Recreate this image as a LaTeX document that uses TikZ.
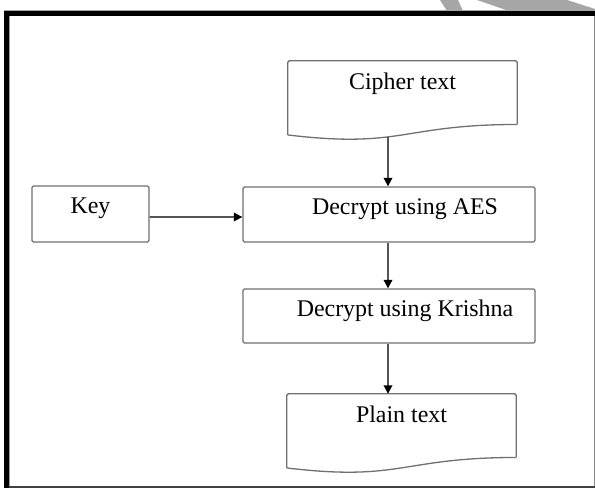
\documentclass[tikz,border=0pt]{standalone}
\usepackage{fontspec}
\setmainfont{Liberation Serif}
\usetikzlibrary{arrows.meta,calc}

\definecolor{boxline}{HTML}{707070}
\definecolor{arrline}{HTML}{555555}
\definecolor{stripe}{HTML}{A6A6A6}

\tikzset{
  procbox/.style={draw=boxline, line width=1.3bp, rounded corners=1.5bp,
    inner sep=0pt, font=\fontsize{24}{26}\selectfont,
    text height=16bp, text depth=16bp},
  docarea/.style={inner sep=0pt, font=\fontsize{24}{26}\selectfont},
  docline/.style={draw=boxline, line width=1.3bp, rounded corners=1.5bp},
  flow/.style={draw=arrline, line width=1.8bp,
    -{Triangle[length=8.5bp,width=8.5bp,color=black,fill=black]}},
}

\begin{document}
\begin{tikzpicture}[x=1bp, y=-1bp]
  \useasboundingbox (0,0) rectangle (595,488);
  \fill[white] (0,0) rectangle (595,488);

  % grey diagonal bands behind the frame
  \fill[stripe] (440,0) -- (458,0) -- (463,11) -- (447,11) -- cycle;
  \fill[stripe] (477,0) -- (567,0) -- (595,9) -- (595,11) -- (509,11) -- cycle;

  % frame
  \fill[black!35] (4,10) rectangle (595,11);
  \fill[black] (4,11) rectangle (595,16.5);
  \fill[black] (4,11) rectangle (9.3,488);
  \fill[black!40] (9.3,16.5) rectangle (10.3,488);
  \fill[black!75] (9.3,485.8) rectangle (595,488);
  \fill[black!45] (593.8,16.5) rectangle (595,486);

  % process boxes
  \node[procbox, minimum width=117bp, minimum height=56bp]
    (key) at (90.5,214) {Key};
  \node[procbox, minimum width=292bp, minimum height=55bp]
    (aes) at (389,214.5) {\hspace*{32bp}Decrypt using AES};
  \node[procbox, minimum width=292bp, minimum height=54bp]
    (krishna) at (389,316) {\hspace*{32bp}Decrypt using Krishna};

  % document shapes: text area nodes, outline drawn from their corners
  \node[docarea, minimum width=229bp, minimum height=79bp,
        text height=16bp, text depth=37bp]
    (cipher) at (402.5,100.5) {Cipher text};
  \node[docarea, minimum width=229bp, minimum height=79bp,
        text height=16bp, text depth=39bp]
    (plain) at (401.5,433.5) {Plain text};

  \foreach \d in {cipher,plain}{
    \draw[docline]
      ($(\d.north west)!0.934!(\d.south west)$)
      -- (\d.north west) -- (\d.north east)
      -- ($(\d.north east)!0.802!(\d.south east)$);
    \draw[draw=boxline, line width=1.3bp]
      ($(\d.north west)!0.934!(\d.south west)$)
      .. controls ($(\d.north)!1.1075!(\d.south)$)
      and ($(\d.north)!0.802!(\d.south)$)
      .. ($(\d.north east)!0.802!(\d.south east)$);
  }

  % connectors
  \coordinate (cipherfoot) at (388,137);
  \draw[flow] ([yshift=-3bp]key.east) -- ([yshift=-2.5bp]aes.west);
  \draw[flow] (cipherfoot) -- (cipherfoot |- aes.north);
  \draw[flow] (aes.south -| cipherfoot) -- (krishna.north -| cipherfoot);
  \draw[flow] (krishna.south -| cipherfoot) -- (plain.north -| cipherfoot);
\end{tikzpicture}
\end{document}
